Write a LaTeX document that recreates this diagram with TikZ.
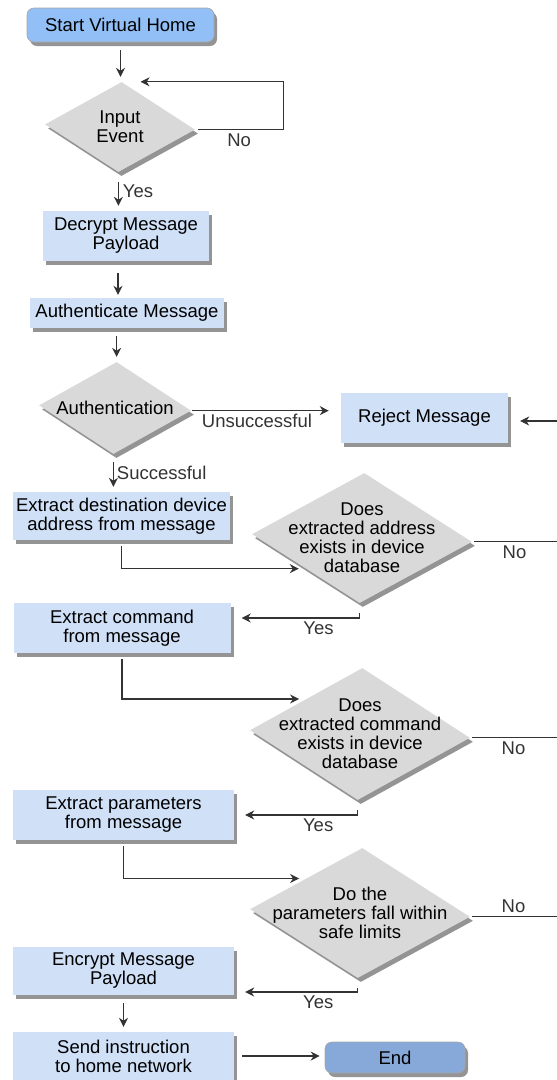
\documentclass[tikz,border=0pt]{standalone}
\usepackage{fontspec}
\setmainfont{Liberation Sans}
\usepackage{tikz}
\usetikzlibrary{shapes.geometric,shadows,arrows.meta}
\definecolor{startblue}{HTML}{92BFF5}
\definecolor{stepblue}{HTML}{CFE0F7}
\definecolor{finishblue}{HTML}{87A9D9}
\definecolor{askgrey}{HTML}{D9D9D9}

\begin{document}
\begin{tikzpicture}[x=1pt,y=-1pt,
		font=\fontsize{18.5}{19}\selectfont,
		shade/.style={drop shadow={shadow xshift=3pt,shadow yshift=-4pt,fill=black!70,opacity=.6}},
		terminal/.style={shade,rectangle,rounded corners=7pt,draw=black!35,line width=.6pt,inner sep=0pt,align=center},
		stepbox/.style={shade,rectangle,fill=stepblue,inner sep=0pt,align=center,minimum height=50pt},
		question/.style={shade,diamond,fill=askgrey,inner sep=0pt,rotate=-2},
		wire/.style={line width=1.1pt,black!80},
		flow/.style={wire,-{Stealth[length=9pt,width=9pt]},shorten <=8pt,shorten >=5pt}]
		\useasboundingbox (0,0) rectangle (557,1080);
		\coordinate (rim) at (557,0);
		\coordinate (inlet) at (557,421);
		
		\node[terminal,fill=startblue,minimum width=187pt,minimum height=34pt] (start) at (120.5,25) {Start Virtual Home};
		\node[question,minimum width=150pt,minimum height=90pt] (input) at (120,127) {};
		\node[align=center] (inputt) at (input) {Input\\Event};
		\node[stepbox,minimum width=166pt] (decrypt) at (126,236) {Decrypt Message\\Payload};
		\node[stepbox,minimum width=194pt,minimum height=30pt] (auth) at (127,313) {Authenticate Message};
		\node[question,minimum width=152pt,minimum height=92pt] (authd) at (115,408) {};
		\node (authdt) at (authd) {Authentication};
		\node[stepbox,minimum width=167pt] (reject) at (424.5,418) {Reject Message};
		
		\node[stepbox,minimum width=217pt,minimum height=48pt] (dest) at (121.5,516) {Extract destination device\\address from message};
		\node[question,minimum width=220pt,minimum height=130pt] (addr) at (362,538) {};
		\node[align=center] (addrt) at (addr) {Does\\extracted address\\exists in device\\database};
		\node[stepbox,minimum width=217pt] (cmd) at (122,628) {Extract command\\from message};
		\node[question,minimum width=220pt,minimum height=132pt] (cmdd) at (360,734) {};
		\node[align=center] (cmddt) at (cmdd) {Does\\extracted command\\exists in device\\database};
		\node[stepbox,minimum width=221pt] (param) at (123.5,815) {Extract parameters\\from message};
		\node[question,minimum width=220pt,minimum height=130pt] (safe) at (360,913) {};
		\node[align=center] (safet) at (safe) {Do the\\parameters fall within\\safe limits};
		\node[stepbox,minimum width=221pt,minimum height=48pt] (encrypt) at (123.5,971) {Encrypt Message\\Payload};
		\node[stepbox,minimum width=221pt,minimum height=48pt] (send) at (123.5,1056) {Send instruction\\to home network};
		\node[terminal,fill=finishblue,minimum width=140pt,minimum height=31pt] (finish) at (395,1057.5) {End};
		
		\draw[flow] (start.south) -- (start.south |- input.north);
		\draw[flow,shorten <=3pt,shorten >=1pt] (input.east) -- node[below] (noloop) {No} ++(88,0) |- ([xshift=18pt]input.north);
		\draw[flow,shorten <=10pt] (input.south) -- node[right,inner sep=4pt] (yes0) {Yes} (input.south |- decrypt.north);
		\draw[flow,shorten <=12pt,shorten >=3pt] ([xshift=-8pt]decrypt.south) -- ([xshift=-8pt]decrypt.south |- auth.north);
		\draw[flow] (authd.north |- auth.south) -- (authd.north);
		\draw[flow,shorten <=1pt,shorten >=12pt] (authd.east) -- node[below,pos=.44] (nopass) {Unsuccessful} (authd.east -| reject.west);
		\draw[flow,shorten <=0pt,shorten >=12pt] (inlet) -- (inlet -| reject.east);
		\draw[flow] (authd.south) -- node[right,inner sep=3pt] (pass) {Successful} (authd.south |- dest.north);
		
		\foreach \src/\ask/\tip in {dest/addr/south west,cmd/cmdd/north west,param/safe/north west}
		\draw[flow,shorten <=6pt,shorten >=7pt] (\src.south) |- (\ask.\tip);
		\foreach \ask/\dst/\lift in {addr/cmd/10,cmdd/param/0,safe/encrypt/-21}
		\draw[flow,shorten <=10pt,shorten >=11pt] (\ask.south) |- node[pos=.66,below] (yes\ask) {Yes} ([yshift=\lift pt]\dst.east);
		\foreach \ask/\side in {addr/below,cmdd/below,safe/above}
		\draw[wire,shorten <=2pt] (\ask.east) -- node[\side] (no\ask) {No} (\ask.east -| rim);
		
		\draw[flow] (encrypt.south) -- (encrypt.south |- send.north);
		\draw[flow] (send.east) -- (send.east -| finish.west);
	\end{tikzpicture}
\end{document}
